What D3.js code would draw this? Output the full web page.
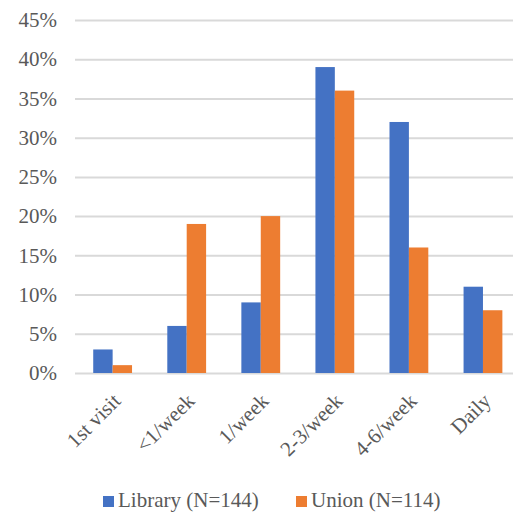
<!DOCTYPE html>
<html>
<head>
<meta charset="utf-8">
<script src="https://cdn.jsdelivr.net/npm/d3@7"></script>
<style>
  html, body { margin: 0; padding: 0; background: #fff; }
  svg { display: block; }
</style>
</head>
<body>
<svg id="chart" width="513" height="517"></svg>
<script>
// Visit frequency by location
const categories = ["1st visit", "<1/week", "1/week", "2-3/week", "4-6/week", "Daily"];
const seriesNames = ["Library (N=144)", "Union (N=114)"];
const libraryValues = [0.03, 0.06, 0.09, 0.39, 0.32, 0.11];
const unionValues = [0.01, 0.19, 0.20, 0.36, 0.16, 0.08];
const yTicks = [0, 0.05, 0.10, 0.15, 0.20, 0.25, 0.30, 0.35, 0.40, 0.45];
const colors = ["#4472C4", "#ED7D31"];

const seriesValues = [libraryValues, unionValues];
const labelFont = "Liberation Serif";
const labelSize = 21;
const textColor = "#595959";

function styleText(sel) {
  sel.attr("font-family", labelFont)
    .attr("font-size", labelSize)
    .attr("fill", textColor);
}

const svg = d3.select("#chart");

const x0 = d3.scaleBand()
  .domain(categories)
  .range([75.6, 520])
  .paddingInner(0.476)
  .paddingOuter(0.238);

const x1 = d3.scaleBand()
  .domain(seriesNames)
  .range([0, x0.bandwidth()]);

const y = d3.scaleLinear().domain([0, 0.45]).range([373, 20]);

// Horizontal gridlines and y-axis labels
const yAxis = d3.axisLeft(y)
  .tickValues(yTicks)
  .tickSize(-(520 - 75))
  .tickPadding(18)
  .tickFormat(d3.format(".0%"));

const gy = svg.append("g")
  .attr("transform", "translate(75,0)")
  .call(yAxis);
gy.select(".domain").remove();
gy.selectAll(".tick line")
  .attr("stroke", "#d9d9d9")
  .attr("stroke-width", 2);
gy.selectAll(".tick text").call(styleText);

// Bars
const rows = categories.map((c, i) => ({
  category: c,
  values: seriesNames.map((s, j) => ({ series: s, value: seriesValues[j][i], color: colors[j] }))
}));

const groups = svg.append("g")
  .selectAll("g")
  .data(rows)
  .join("g")
  .attr("transform", d => `translate(${x0(d.category)},0)`);

groups.selectAll("rect")
  .data(d => d.values)
  .join("rect")
  .attr("x", d => x1(d.series))
  .attr("width", x1.bandwidth())
  .attr("y", d => y(d.value))
  .attr("height", d => y(0) - y(d.value))
  .attr("fill", d => d.color);

// Category labels, rotated
const xAxis = d3.axisBottom(x0).tickSize(0).tickPadding(0);
const gx = svg.append("g")
  .attr("transform", `translate(0,${y(0)})`)
  .call(xAxis);
gx.select(".domain").remove();
gx.selectAll(".tick text")
  .call(styleText)
  .attr("text-anchor", "end")
  .attr("dy", "0.35em")
  .attr("transform", "translate(4,24) rotate(-45)");

// Legend
const legendItems = [
  { name: seriesNames[0], color: colors[0], x: 103 },
  { name: seriesNames[1], color: colors[1], x: 296 }
];
const li = svg.append("g")
  .selectAll("g")
  .data(legendItems)
  .join("g")
  .attr("transform", d => `translate(${d.x},496)`);
li.append("rect")
  .attr("width", 11)
  .attr("height", 11)
  .attr("fill", d => d.color);
li.append("text")
  .attr("x", 15)
  .attr("y", 11)
  .call(styleText)
  .text(d => d.name);
</script>
</body>
</html>
